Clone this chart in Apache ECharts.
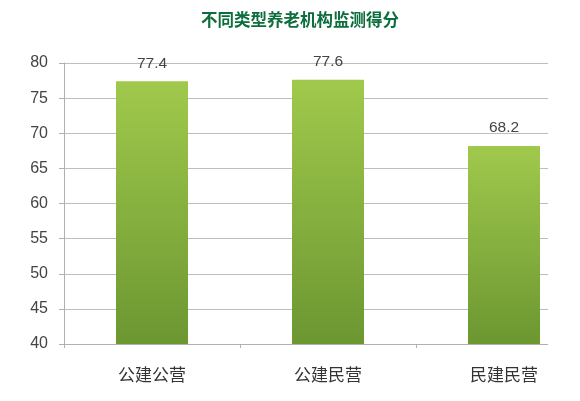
<!DOCTYPE html>
<html><head><meta charset="utf-8">
<script src="https://cdn.jsdelivr.net/npm/echarts@6/dist/echarts.min.js"></script>
<style>html,body{margin:0;padding:0;background:#fff;overflow:hidden;width:580px;height:401px}#c{width:620px;height:401px}</style>
</head><body><div id="c"></div>
<script>
var titleText = '不同类型养老机构监测得分';
var categories = ['公建公营', '公建民营', '民建民营'];
var scores = [77.4, 77.6, 68.2];
var yTicks = {min: 40, max: 80, interval: 5};

var chart = echarts.init(document.getElementById('c'));
chart.setOption({
  animation: false,
  backgroundColor: '#fff',
  title: {
    text: titleText, left: 196, top: 6,
    textStyle: {fontFamily: 'Noto Sans CJK SC', fontSize: 16.5, fontWeight: 'bold', color: '#0b6e3c'}
  },
  grid: {left: 64, width: 528, top: 63, bottom: 57},
  xAxis: {
    type: 'category', data: categories,
    axisLine: {lineStyle: {color: '#b0b0b0', width: 1}},
    axisTick: {show: true, length: 4, lineStyle: {color: '#b0b0b0'}},
    axisLabel: {fontFamily: 'Noto Sans CJK SC', fontSize: 17, color: '#333', margin: 22}
  },
  yAxis: {
    type: 'value', min: yTicks.min, max: yTicks.max, interval: yTicks.interval,
    axisLine: {show: true, lineStyle: {color: '#b0b0b0'}},
    axisTick: {show: true, length: 5, lineStyle: {color: '#b0b0b0'}},
    axisLabel: {fontFamily: 'Liberation Sans', fontSize: 16, color: '#444', margin: 16},
    splitLine: {lineStyle: {color: '#bdbdbd', width: 1}}
  },
  series: [{
    type: 'bar', data: scores, barWidth: 72,
    itemStyle: {
      color: new echarts.graphic.LinearGradient(0, 0, 0, 1, [
        {offset: 0, color: '#a0c94c'},
        {offset: 1, color: '#6c9731'}
      ])
    },
    label: {show: true, position: 'top', distance: 10, fontFamily: 'Liberation Sans', fontSize: 15.5, color: '#444'}
  }],
  graphic: [{
    type: 'rect', left: 548, top: 55, z: 100, silent: true,
    shape: {width: 80, height: 295}, style: {fill: '#fff'}
  }]
});
</script></body></html>
